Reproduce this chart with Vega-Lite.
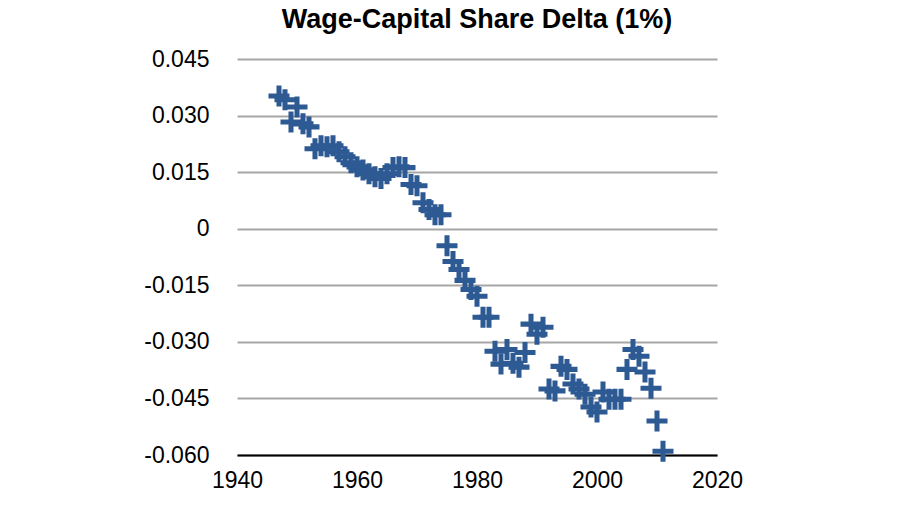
{
  "$schema": "https://vega.github.io/schema/vega-lite/v6.json",
  "width": 480,
  "height": 396,
  "autosize": {"type": "none"},
  "padding": {"left": 237, "top": 59, "right": 183, "bottom": 65},
  "background": "white",
  "title": {
    "text": "Wage-Capital Share Delta (1%)",
    "font": "Liberation Sans",
    "fontSize": 27,
    "fontWeight": "bold",
    "color": "black",
    "anchor": "middle",
    "offset": 14
  },
  "config": {"view": {"stroke": null}},
  "data": {
    "values": [
      {"year": 1947, "v": 0.0352}, {"year": 1948, "v": 0.0342}, {"year": 1949, "v": 0.0283},
      {"year": 1950, "v": 0.0323}, {"year": 1951, "v": 0.0278}, {"year": 1952, "v": 0.0270},
      {"year": 1953, "v": 0.0212}, {"year": 1954, "v": 0.0220}, {"year": 1955, "v": 0.0217},
      {"year": 1956, "v": 0.0220}, {"year": 1957, "v": 0.0204}, {"year": 1958, "v": 0.0191},
      {"year": 1959, "v": 0.0175}, {"year": 1960, "v": 0.0164}, {"year": 1961, "v": 0.0156},
      {"year": 1962, "v": 0.0146}, {"year": 1963, "v": 0.0138}, {"year": 1964, "v": 0.0133},
      {"year": 1965, "v": 0.0146}, {"year": 1966, "v": 0.0162}, {"year": 1967, "v": 0.0164},
      {"year": 1968, "v": 0.0162}, {"year": 1969, "v": 0.0117}, {"year": 1970, "v": 0.0114},
      {"year": 1971, "v": 0.0069}, {"year": 1972, "v": 0.0051}, {"year": 1973, "v": 0.0037},
      {"year": 1974, "v": 0.0037}, {"year": 1975, "v": -0.0045}, {"year": 1976, "v": -0.0087},
      {"year": 1977, "v": -0.0108}, {"year": 1978, "v": -0.0137}, {"year": 1979, "v": -0.0161},
      {"year": 1980, "v": -0.0179}, {"year": 1981, "v": -0.0235}, {"year": 1982, "v": -0.0235},
      {"year": 1983, "v": -0.0325}, {"year": 1984, "v": -0.0359}, {"year": 1985, "v": -0.0320},
      {"year": 1986, "v": -0.0357}, {"year": 1987, "v": -0.0367}, {"year": 1988, "v": -0.0328},
      {"year": 1989, "v": -0.0253}, {"year": 1990, "v": -0.0280}, {"year": 1991, "v": -0.0261},
      {"year": 1992, "v": -0.0425}, {"year": 1993, "v": -0.0430}, {"year": 1994, "v": -0.0365},
      {"year": 1995, "v": -0.0373}, {"year": 1996, "v": -0.0412}, {"year": 1997, "v": -0.0425},
      {"year": 1998, "v": -0.0439}, {"year": 1999, "v": -0.0473}, {"year": 2000, "v": -0.0486},
      {"year": 2001, "v": -0.0433}, {"year": 2002, "v": -0.0452}, {"year": 2003, "v": -0.0452},
      {"year": 2004, "v": -0.0452}, {"year": 2005, "v": -0.0373}, {"year": 2006, "v": -0.0320},
      {"year": 2007, "v": -0.0338}, {"year": 2008, "v": -0.0380}, {"year": 2009, "v": -0.0423},
      {"year": 2010, "v": -0.0510}, {"year": 2011, "v": -0.0590}
    ]
  },
  "mark": {
    "type": "point",
    "shape": "M-1,-0.24H1V0.24H-1Z M-0.24,-1H0.24V1H-0.24Z",
    "filled": true,
    "size": 441,
    "color": "#2e5a94",
    "opacity": 1
  },
  "encoding": {
    "x": {
      "field": "year",
      "type": "quantitative",
      "scale": {"domain": [1940, 2020], "nice": false, "zero": false},
      "axis": {
        "title": null,
        "values": [1940, 1960, 1980, 2000, 2020],
        "format": "d",
        "grid": false,
        "ticks": false,
        "domain": true,
        "domainColor": "black",
        "domainWidth": 2,
        "labelFont": "Liberation Sans",
        "labelFontSize": 23,
        "labelColor": "black",
        "labelPadding": 14,
        "labelFlush": false
      }
    },
    "y": {
      "field": "v",
      "type": "quantitative",
      "scale": {"domain": [-0.06, 0.045], "nice": false, "zero": false},
      "axis": {
        "title": null,
        "values": [0.045, 0.03, 0.015, 0, -0.015, -0.03, -0.045, -0.06],
        "labelExpr": "datum.value == 0 ? '0' : replace(format(datum.value, '.3f'), '\u2212', '-')",
        "grid": true,
        "gridColor": "#a6a6a6",
        "gridWidth": 2,
        "ticks": false,
        "domain": false,
        "labelFont": "Liberation Sans",
        "labelFontSize": 23,
        "labelColor": "black",
        "labelPadding": 28
      }
    }
  }
}
